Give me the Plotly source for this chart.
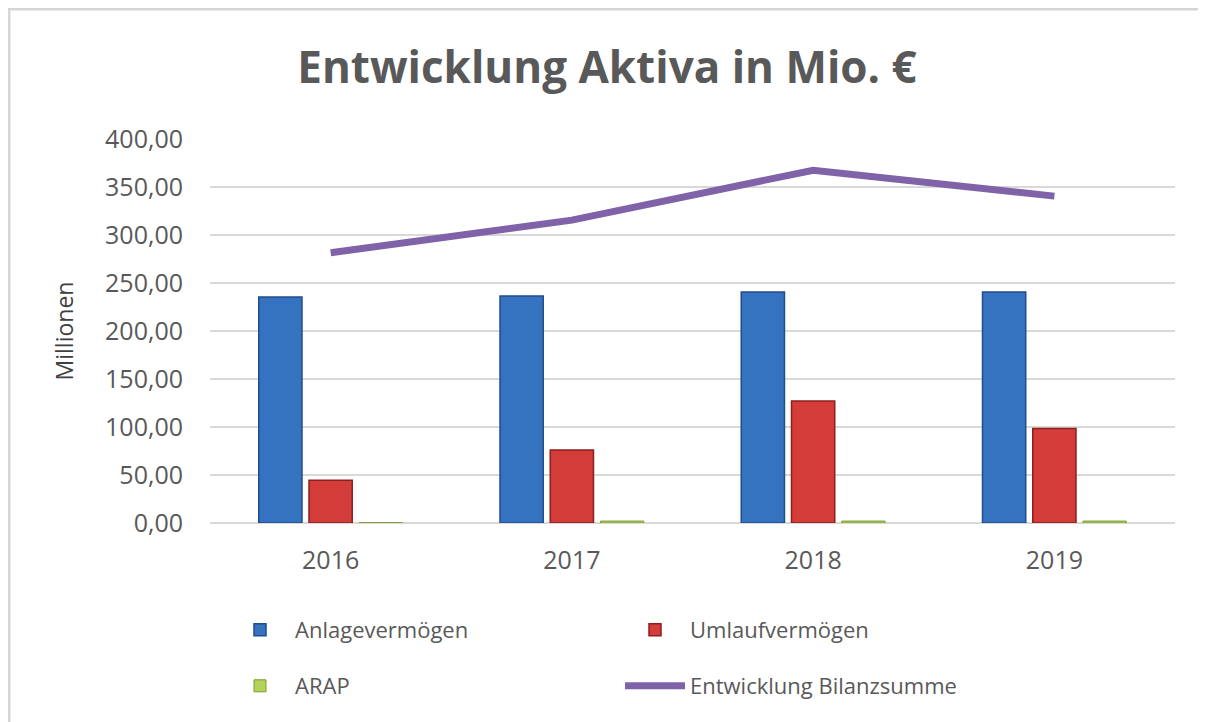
import plotly.graph_objects as go

years = ["2016", "2017", "2018", "2019"]
anlage = [235.5, 236.5, 240.5, 240.5]
umlauf = [44.5, 76.0, 127.0, 98.5]
arap = [0.3, 2.0, 2.0, 2.0]
bilanz = [281.5, 315.5, 367.5, 340.5]

# page body adds an 8px offset; work in figure coordinates = reference - 8
OFF = 8
W, H = 1206 - OFF, 722 - OFF
L, T = 210 - OFF, 139 - OFF
R = W - (1175 - OFF)
B = H - (523 - OFF)
pw = W - L - R
ph = H - T - B

def px(x):
    return (x - OFF - L) / pw

def py(y):
    return (H - B - (y - OFF)) / ph

fig = go.Figure()
fig.add_trace(go.Bar(x=years, y=anlage, name="Anlagevermögen", legend="legend",
                     marker=dict(color="#3573C0", line=dict(color="#1F4E8C", width=1.5))))
fig.add_trace(go.Bar(x=years, y=umlauf, name="Umlaufvermögen", legend="legend",
                     marker=dict(color="#D33C38", line=dict(color="#8E1F1C", width=1.5))))
fig.add_trace(go.Bar(x=years, y=arap, name="ARAP", legend="legend2",
                     marker=dict(color="#B5D35A", line=dict(color="#7A9A2E", width=1))))
fig.add_trace(go.Scatter(x=years, y=bilanz, name="Entwicklung Bilanzsumme", mode="lines",
                         legend="legend2", line=dict(color="#7F62A8", width=7)))

leg_common = dict(orientation="h", xanchor="left", yanchor="middle",
                  entrywidth=320, entrywidthmode="pixels",
                  font=dict(size=22, color="#595959"), itemwidth=60,
                  bgcolor="rgba(0,0,0,0)")

fig.update_layout(
    width=W, height=H,
    margin=dict(l=L, r=R, t=T, b=B),
    paper_bgcolor="white", plot_bgcolor="white",
    barmode="group", bargap=0.375, bargroupgap=0.14,
    font=dict(family="Open Sans", color="#595959"),
    title=dict(text="<b>Entwicklung Aktiva in Mio. €</b>", x=0.5, xanchor="center",
               y=1 - 60 / H, yanchor="middle",
               font=dict(size=44, color="#595959", family="Open Sans")),
    xaxis=dict(showgrid=False, showline=False, ticks="", ticklabelstandoff=20,
               tickfont=dict(size=25, color="#595959")),
    yaxis=dict(range=[0, 400], dtick=50, tickformat=".2f", gridcolor="#D9D9D9", gridwidth=2,
               zeroline=True, zerolinecolor="#D9D9D9", zerolinewidth=2,
               tickfont=dict(size=25, color="#595959"), ticklabelstandoff=26,
               title=dict(text="Millionen", font=dict(size=23, color="#404040"), standoff=24)),
    separators=",.",
    legend=dict(x=px(225), y=py(630), **leg_common),
    legend2=dict(x=px(225), y=py(686), **leg_common),
    shapes=[dict(type="rect", xref="paper", yref="paper",
                 x0=px(9), x1=px(1260), y0=py(780), y1=py(9),
                 line=dict(color="#D6D6D6", width=3), layer="below")],
)

fig.write_html("out.html")
